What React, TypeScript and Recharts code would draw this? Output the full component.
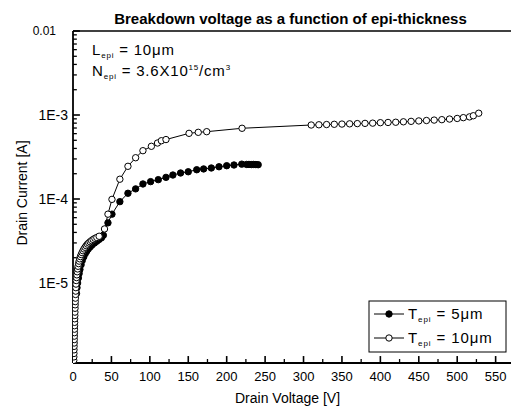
import React from 'react';
import { LineChart, Line, XAxis, YAxis, ReferenceLine } from 'recharts';

const W = 511;
const H = 409;
const FONT = '"Liberation Sans", Arial, Helvetica, sans-serif';

const titleText = 'Breakdown voltage as a function of epi-thickness';
const xAxisTitle = 'Drain Voltage [V]';
const yAxisTitle = 'Drain Current [A]';
const legendValues = ['5μm', '10μm'];

const X_MIN = 0;
const X_MAX = 570;
const Y_MIN = 1.116e-6;
const Y_MAX = 0.01;

const xMajorTicks = [0, 50, 100, 150, 200, 250, 300, 350, 400, 450, 500, 550];
const xMinorTicks = [25, 75, 125, 175, 225, 275, 325, 375, 425, 475, 525];
const yMajorTicks = [1e-5, 1e-4, 1e-3, 1e-2];
const yMajorLabels = ['1E-5', '1E-4', '1E-3', '0.01'];
const yMinorTicks = [
  2e-6, 3e-6, 4e-6, 5e-6, 6e-6, 7e-6, 8e-6, 9e-6,
  2e-5, 3e-5, 4e-5, 5e-5, 6e-5, 7e-5, 8e-5, 9e-5,
  2e-4, 3e-4, 4e-4, 5e-4, 6e-4, 7e-4, 8e-4, 9e-4,
  2e-3, 3e-3, 4e-3, 5e-3, 6e-3, 7e-3, 8e-3, 9e-3,
];

// inward tick-mark lengths expressed in axis units
const Y_TICK_MAJOR_LEN = 9; // volts (~7 px)
const Y_TICK_MINOR_LEN = 5; // volts (~4 px)
const X_TICK_MAJOR_TOP = Y_MIN * 1.21; // ~7 px on the log axis
const X_TICK_MINOR_TOP = Y_MIN * 1.115; // ~4 px

// T_epi = 5 um (filled circles)
const v5 = [
  4.5, 5.2, 6.0, 7.0, 8.0, 9.0, 10.5, 12, 14, 16, 18, 20, 22.5, 25, 28, 31, 34, 37, 39.5,
  45.5, 50.7, 61, 71.5, 81.5, 91, 101, 111, 121, 130, 140, 150, 161, 170, 180, 190, 200,
  209.5, 219.6, 226, 229, 232, 235, 238, 241,
];
const i5 = [
  7.5e-6, 8.8e-6, 1.0e-5, 1.15e-5, 1.3e-5, 1.45e-5, 1.65e-5, 1.85e-5, 2.05e-5, 2.25e-5, 2.4e-5, 2.55e-5, 2.7e-5, 2.85e-5, 3.0e-5, 3.15e-5, 3.3e-5, 3.45e-5, 3.7e-5,
  5.2e-5, 6.6e-5, 9.3e-5, 1.17e-4, 1.32e-4, 1.51e-4, 1.61e-4, 1.7e-4, 1.81e-4, 1.93e-4, 2.04e-4, 2.11e-4, 2.23e-4, 2.28e-4, 2.34e-4, 2.42e-4, 2.49e-4,
  2.54e-4, 2.6e-4, 2.58e-4, 2.58e-4, 2.57e-4, 2.58e-4, 2.57e-4, 2.56e-4,
];

// T_epi = 10 um (open circles)
const v10 = [
  1.0, 1.1, 1.2, 1.3, 1.4, 1.5, 1.6, 1.7, 1.8, 1.9, 2.0, 2.1, 2.2, 2.35, 2.5, 2.65, 2.8, 2.95, 3.1, 3.3, 3.5, 3.7, 3.9, 4.2,
  4.6, 5.0, 5.5, 6.0, 6.6, 7.3, 8.0, 8.8, 9.7, 10.7, 11.8, 13, 14.3, 15.7, 17.2, 18.8, 20.5, 22.3, 24.2, 26.2, 28.5, 31, 34,
  41, 45.5, 50.7, 61, 71.5, 81.5, 91, 102, 110, 115, 121, 151, 163, 174, 220,
  310, 320, 330, 340, 350, 360, 370, 380, 390, 400, 410, 420, 430, 440, 450, 460, 470, 480, 490, 500, 508, 516, 521, 528,
];
const i10 = [
  1.2e-6, 1.32e-6, 1.45e-6, 1.6e-6, 1.76e-6, 1.93e-6, 2.12e-6, 2.33e-6, 2.56e-6, 2.82e-6, 3.1e-6, 3.4e-6, 3.75e-6, 4.1e-6, 4.5e-6, 5.0e-6, 5.5e-6, 6.0e-6, 6.6e-6, 7.3e-6, 8.0e-6, 8.8e-6, 9.7e-6, 1.07e-5,
  1.16e-5, 1.25e-5, 1.36e-5, 1.47e-5, 1.58e-5, 1.7e-5, 1.82e-5, 1.94e-5, 2.06e-5, 2.18e-5, 2.3e-5, 2.42e-5, 2.54e-5, 2.66e-5, 2.78e-5, 2.9e-5, 3.0e-5, 3.1e-5, 3.2e-5, 3.3e-5, 3.4e-5, 3.48e-5, 3.6e-5,
  4.4e-5, 6.6e-5, 9.9e-5, 1.72e-4, 2.45e-4, 3.1e-4, 3.76e-4, 4.24e-4, 4.64e-4, 4.94e-4, 5.1e-4, 6.05e-4, 6.22e-4, 6.33e-4, 6.95e-4,
  7.6e-4, 7.65e-4, 7.7e-4, 7.75e-4, 7.8e-4, 7.85e-4, 7.9e-4, 7.95e-4, 8.0e-4, 8.1e-4, 8.15e-4, 8.2e-4, 8.3e-4, 8.4e-4, 8.5e-4, 8.6e-4, 8.7e-4, 8.8e-4, 8.95e-4, 9.1e-4, 9.3e-4, 9.5e-4, 9.8e-4, 1.05e-3,
];

const data5 = v5.map((v, k) => ({ v, i: i5[k] }));
const data10 = v10.map((v, k) => ({ v, i: i10[k] }));

const X_TM = 10;
const Y_TM = 10;

const near = (a: number, b: number) => Math.abs(a - b) <= Math.abs(b) * 1e-6;

const XTick = (props: any) => {
  const { x, y, payload } = props;
  const axisY = y - X_TM;
  return (
    <text x={x} y={axisY + 18} textAnchor="middle" fontSize={13} fontFamily={FONT} fill="#000">
      {payload.value}
    </text>
  );
};

const YTick = (props: any) => {
  const { x, y, payload } = props;
  const edge = x + Y_TM;
  const idx = yMajorTicks.findIndex((m) => near(payload.value, m));
  const label = idx >= 0 ? yMajorLabels[idx] : '';
  const isTop = label === '0.01';
  return (
    <text
      x={isTop ? edge - 17 : edge - 5}
      y={y}
      dy="0.36em"
      textAnchor="end"
      fontSize={isTop ? 12 : 14}
      fontFamily={FONT}
      fill="#000"
    >
      {label}
    </text>
  );
};

export default function App() {
  return (
    <div style={{ position: 'absolute', left: 0, top: 0, width: W, height: H, background: '#fff' }}>
      <LineChart width={W} height={H} margin={{ top: 31, right: 0, bottom: 0, left: 0 }}>
        <XAxis
          type="number"
          dataKey="v"
          domain={[X_MIN, X_MAX]}
          allowDataOverflow
          ticks={xMajorTicks}
          interval={0}
          height={46}
          tickSize={0}
          tickMargin={X_TM}
          tickLine={false}
          axisLine={{ stroke: '#000', strokeWidth: 1.8 }}
          tick={(p: any) => <XTick {...p} />}
        />
        <YAxis
          type="number"
          dataKey="i"
          scale="log"
          domain={[Y_MIN, Y_MAX]}
          allowDataOverflow
          ticks={yMajorTicks}
          interval={0}
          width={73}
          tickSize={0}
          tickMargin={Y_TM}
          tickLine={false}
          axisLine={{ stroke: '#000', strokeWidth: 1.8 }}
          tick={(p: any) => <YTick {...p} />}
        />
        <ReferenceLine y={Y_MAX} stroke="#000" strokeWidth={1.4} ifOverflow="visible" />
        {yMajorTicks.map((v) => (
          <ReferenceLine
            key={`ymj${v}`}
            segment={[{ x: X_MIN, y: v }, { x: Y_TICK_MAJOR_LEN, y: v }]}
            stroke="#000"
            strokeWidth={1.6}
            ifOverflow="visible"
          />
        ))}
        {yMinorTicks.map((v) => (
          <ReferenceLine
            key={`ymn${v}`}
            segment={[{ x: X_MIN, y: v }, { x: Y_TICK_MINOR_LEN, y: v }]}
            stroke="#000"
            strokeWidth={1.3}
            ifOverflow="visible"
          />
        ))}
        {xMajorTicks.map((v) => (
          <ReferenceLine
            key={`xmj${v}`}
            segment={[{ x: v, y: Y_MIN }, { x: v, y: X_TICK_MAJOR_TOP }]}
            stroke="#000"
            strokeWidth={1.6}
            ifOverflow="visible"
          />
        ))}
        {xMinorTicks.map((v) => (
          <ReferenceLine
            key={`xmn${v}`}
            segment={[{ x: v, y: Y_MIN }, { x: v, y: X_TICK_MINOR_TOP }]}
            stroke="#000"
            strokeWidth={1.3}
            ifOverflow="visible"
          />
        ))}
        <Line
          data={data5}
          dataKey="i"
          stroke="#000"
          strokeWidth={1}
          dot={{ r: 3.2, fill: '#000', stroke: '#000', strokeWidth: 1 }}
          activeDot={false}
          isAnimationActive={false}
        />
        <Line
          data={data10}
          dataKey="i"
          stroke="#000"
          strokeWidth={1}
          dot={{ r: 3.2, fill: '#fff', stroke: '#000', strokeWidth: 1 }}
          activeDot={false}
          isAnimationActive={false}
        />
      </LineChart>
      <svg
        width={W}
        height={H}
        style={{ position: 'absolute', left: 0, top: 0, pointerEvents: 'none' }}
        fontFamily={FONT}
      >
        <text x={290.5} y={24} textAnchor="middle" fontWeight="bold" fontSize={15} fill="#000">
          {titleText}
        </text>
        <text x={92} y={55} fontSize={15} letterSpacing={0.8} fill="#000">
          L<tspan fontSize={8} dy={3}>epi</tspan>
          <tspan dy={-3}> = 10μm</tspan>
        </text>
        <text x={92} y={76} fontSize={15} letterSpacing={0.8} fill="#000">
          N<tspan fontSize={8} dy={3}>epi</tspan>
          <tspan dy={-3}> = 3.6X10</tspan>
          <tspan fontSize={8} dy={-6}>15</tspan>
          <tspan dy={6}>/cm</tspan>
          <tspan fontSize={8} dy={-6}>3</tspan>
        </text>
        <text transform="translate(27,193) rotate(-90)" textAnchor="middle" fontSize={14} fill="#000">
          {yAxisTitle}
        </text>
        <text x={287.5} y={403} textAnchor="middle" fontSize={14} fill="#000">
          {xAxisTitle}
        </text>
        <rect x={369} y={301} width={137} height={51} fill="#fff" stroke="#000" strokeWidth={1} />
        {legendValues.map((lv, k) => {
          const cy = 314 + k * 24;
          return (
            <g key={lv}>
              <line x1={374} x2={404} y1={cy} y2={cy} stroke="#000" strokeWidth={1} />
              <circle cx={389} cy={cy} r={3.2} fill={k === 0 ? '#000' : '#fff'} stroke="#000" strokeWidth={1} />
              <text x={408} y={cy + 5} fontSize={15} letterSpacing={0.9} fill="#000">
                T<tspan fontSize={8} dy={3}>epi</tspan>
                <tspan dy={-3}> = {lv}</tspan>
              </text>
            </g>
          );
        })}
      </svg>
    </div>
  );
}
